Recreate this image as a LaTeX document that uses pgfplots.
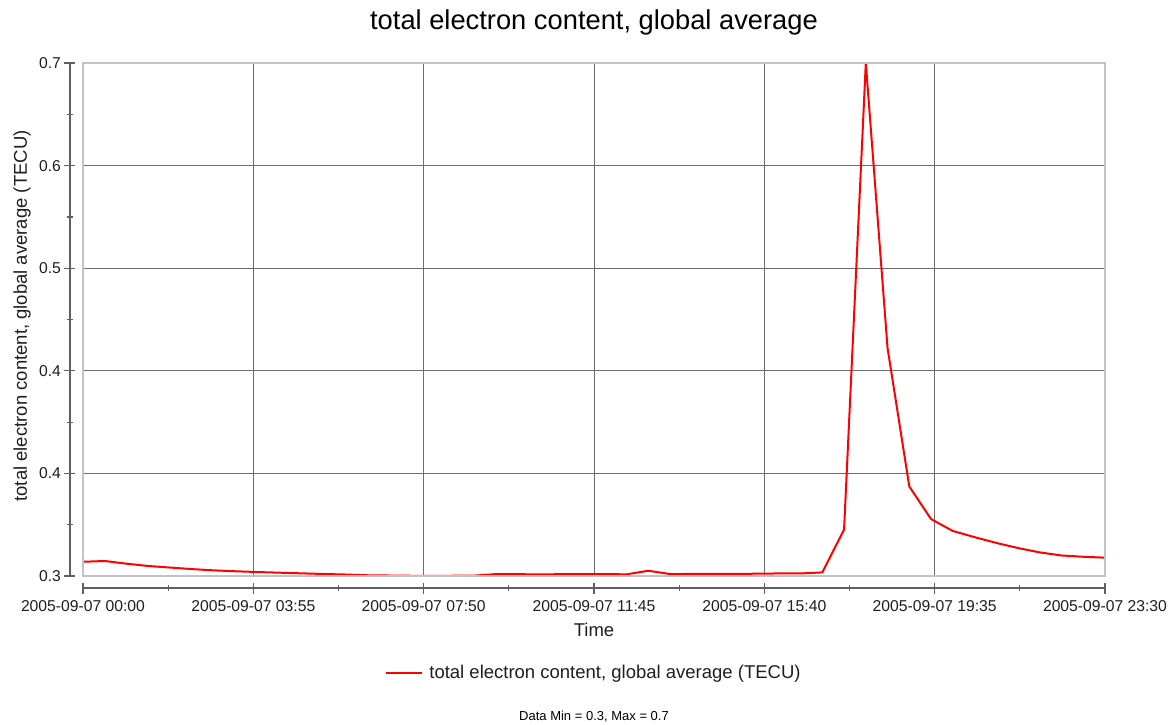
\documentclass[border=0pt]{standalone}
\usepackage{fontspec}
\setmainfont{Liberation Sans}
\usepackage{pgfplots}
\pgfplotsset{compat=1.18}
\definecolor{axisgray}{RGB}{95,95,95}
\definecolor{gridgray}{RGB}{110,110,110}
\definecolor{framegray}{RGB}{195,195,195}
\definecolor{textgray}{RGB}{30,30,30}

% total electron content, 30-minute samples (minutes since 00:00, TECU)
\pgfplotstableread{
t    tec
0    0.3111
30   0.3117
60   0.3096
90   0.3078
120  0.3066
150  0.3054
180  0.3044
210  0.3037
240  0.3031
270  0.3026
300  0.3021
330  0.3016
360  0.3012
390  0.3006
420  0.3004
450  0.3002
480  0.3001
510  0.3002
540  0.3003
570  0.3015
600  0.3014
630  0.3013
660  0.3014
690  0.3015
720  0.3015
750  0.3013
780  0.3041
810  0.3015
840  0.3016
870  0.3016
900  0.3016
930  0.3018
960  0.3020
990  0.3020
1020 0.3028
1050 0.3362
1080 0.7000
1110 0.4777
1140 0.3698
1170 0.3444
1200 0.3351
1230 0.3303
1260 0.3258
1290 0.3218
1320 0.3184
1350 0.3160
1380 0.3150
1410 0.3143
}\tecdata

\begin{document}
\begin{tikzpicture}[x=1pt,y=1pt]
\useasboundingbox (0,0) rectangle (1171,724);
\begin{axis}[
  at={(83pt,148pt)}, anchor=south west,
  width=1022pt, height=513pt, scale only axis,
  xmin=0, xmax=1410, ymin=0.3, ymax=0.7,
  clip=false,
  axis lines=left,
  axis x line shift=12pt,
  axis y line shift=13pt,
  axis line style={-, axisgray, line width=1.6pt},
  xtick={0,235,470,705,940,1175,1410},
  xticklabels={2005-09-07 00:00,2005-09-07 03:55,2005-09-07 07:50,2005-09-07 11:45,2005-09-07 15:40,2005-09-07 19:35,2005-09-07 23:30},
  ytick={0.30,0.38,0.46,0.54,0.62,0.70},
  yticklabels={0.3,0.4,0.4,0.5,0.6,0.7},
  minor x tick num=1,
  minor y tick num=1,
  tick align=center,
  major tick length=11pt,
  minor tick length=6pt,
  every tick/.style={axisgray, line width=1.2pt},
  grid=major,
  major grid style={gridgray, line width=0.9pt},
  tick label style={font=\fontsize{15.7}{18}\selectfont, text=textgray},
  xticklabel style={yshift=-4pt},
  /pgf/number format/assume math mode=true,
  title={total electron content, global average},
  title style={at={(0.5,1.068)}, anchor=center, font=\fontsize{27.3}{30}\selectfont, text=black},
  xlabel={Time},
  xlabel style={at={(0.5,-0.105)}, anchor=center, font=\fontsize{18.5}{21}\selectfont, text=textgray},
  ylabel={total electron content, global average (TECU)},
  ylabel style={at={(-0.0597,0.507)}, anchor=center, font=\fontsize{18.5}{21}\selectfont, text=textgray},
  legend style={at={(0.5,-0.189)}, anchor=center, draw=none, fill=none,
    font=\fontsize{18.5}{21}\selectfont, text=textgray},
  legend image code/.code={\draw[#1] (0pt,0pt) -- (36pt,0pt); \path (40pt,0pt);},
  after end axis/.code={\draw[framegray, line width=1.2pt] (rel axis cs:0,0) rectangle (rel axis cs:1,1);},
]
\addplot[red, line width=2pt, line join=round] table[x=t, y=tec] {\tecdata};
\addlegendentry{total electron content, global average (TECU)}
\end{axis}
\node[font=\fontsize{13}{15}\selectfont, text=black] at (594,7) {Data Min = 0.3, Max = 0.7};
\end{tikzpicture}
\end{document}
